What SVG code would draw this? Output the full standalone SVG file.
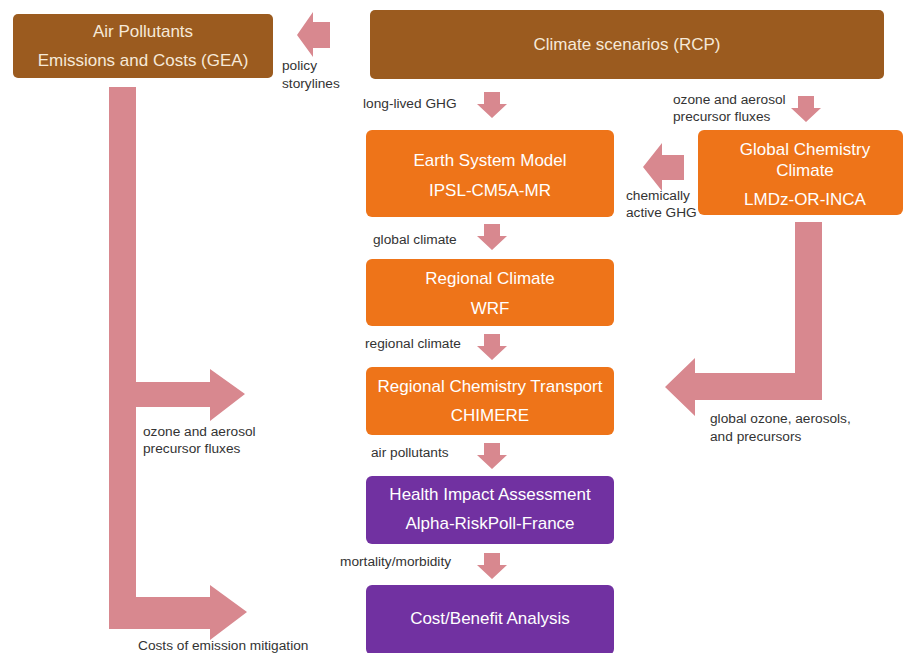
<svg xmlns="http://www.w3.org/2000/svg" xmlns:xlink="http://www.w3.org/1999/xlink" width="903" height="653" viewBox="0 0 903 653">
<style>
.brown{fill:#9b5b1f}
.orange{fill:#ee7419}
.purple{fill:#7131a1}
.bt{font-family:"Liberation Sans",Arial,sans-serif;font-size:17px;fill:#ffffff;text-anchor:middle}
.btb{font-family:"Liberation Sans",Arial,sans-serif;font-size:17px;fill:#f6e9d8;text-anchor:middle}
.lbl{font-family:"Liberation Sans",Arial,sans-serif;font-size:13.7px;fill:#333333}
.arr{fill:#d8888f}
</style>
<defs>
<path id="dn" d="M-8,0 H8 V12 H15 L0,26 L-15,12 H-8 Z"/>
</defs>
<rect width="903" height="653" fill="#ffffff"/>

<g id="connectors" class="arr">
<use xlink:href="#dn" href="#dn" x="492" y="92"/>
<use xlink:href="#dn" href="#dn" x="806" y="96"/>
<use xlink:href="#dn" href="#dn" x="492" y="224"/>
<use xlink:href="#dn" href="#dn" x="492" y="334"/>
<use xlink:href="#dn" href="#dn" x="492" y="443"/>
<use xlink:href="#dn" href="#dn" x="492" y="553"/>
<path d="M330,22 V48 H313 V57 L297,35 L313,12 V22 Z"/>
<path d="M684,155 V180 H662 V191 L643,167 L662,143 V155 Z"/>
<path d="M109,87 H136 V382 H210 V369 L245,394 L210,421 V407 H136 V597 H210 V585 L247,612 L210,640 V629 H109 Z"/>
<path d="M795,222 H822 V400 H695 V416 L665,387 L695,358 V373 H795 Z"/>
</g>

<g id="air-pollutants">
<rect x="13" y="14" width="260" height="64" rx="5" class="brown"/>
<text x="143" y="37" class="btb">Air Pollutants</text>
<text x="143" y="66" class="btb">Emissions and Costs (GEA)</text>
</g>

<g id="climate-scenarios">
<rect x="370" y="10" width="514" height="69" rx="5" class="brown"/>
<text x="627" y="50" class="btb">Climate scenarios (RCP)</text>
</g>

<g id="earth-system-model">
<rect x="366" y="130" width="248" height="87" rx="6" class="orange"/>
<text x="490" y="166" class="bt">Earth System Model</text>
<text x="490" y="196" class="bt">IPSL-CM5A-MR</text>
</g>

<g id="global-chemistry">
<rect x="698" y="130" width="205" height="85" rx="6" class="orange"/>
<text x="805" y="155" class="bt">Global Chemistry</text>
<text x="805" y="176" class="bt">Climate</text>
<text x="805" y="205" class="bt">LMDz-OR-INCA</text>
</g>

<g id="regional-climate">
<rect x="366" y="259" width="248" height="67" rx="6" class="orange"/>
<text x="490" y="284" class="bt">Regional Climate</text>
<text x="490" y="314" class="bt">WRF</text>
</g>

<g id="regional-chemistry">
<rect x="366" y="367" width="248" height="68" rx="6" class="orange"/>
<text x="490" y="392" class="bt">Regional Chemistry Transport</text>
<text x="490" y="421" class="bt">CHIMERE</text>
</g>

<g id="health-impact">
<rect x="366" y="476" width="248" height="68" rx="6" class="purple"/>
<text x="490" y="500" class="bt">Health Impact Assessment</text>
<text x="490" y="529" class="bt">Alpha-RiskPoll-France</text>
</g>

<g id="cost-benefit">
<rect x="366" y="585" width="248" height="70" rx="6" class="purple"/>
<text x="490" y="624" class="bt">Cost/Benefit Analysis</text>
</g>

<g id="labels">
<text x="282" y="70" class="lbl">policy</text>
<text x="282" y="88" class="lbl">storylines</text>
<text x="363" y="108" class="lbl">long-lived GHG</text>
<text x="673" y="104" class="lbl">ozone and aerosol</text>
<text x="673" y="121" class="lbl">precursor fluxes</text>
<text x="626" y="200" class="lbl">chemically</text>
<text x="626" y="217" class="lbl">active GHG</text>
<text x="373" y="244" class="lbl">global climate</text>
<text x="365" y="348" class="lbl">regional climate</text>
<text x="143" y="436" class="lbl">ozone and aerosol</text>
<text x="143" y="453" class="lbl">precursor fluxes</text>
<text x="710" y="423" class="lbl">global ozone, aerosols,</text>
<text x="710" y="441" class="lbl">and precursors</text>
<text x="371" y="457" class="lbl">air pollutants</text>
<text x="340" y="566" class="lbl">mortality/morbidity</text>
<text x="138" y="650" class="lbl">Costs of emission mitigation</text>
</g>
</svg>
